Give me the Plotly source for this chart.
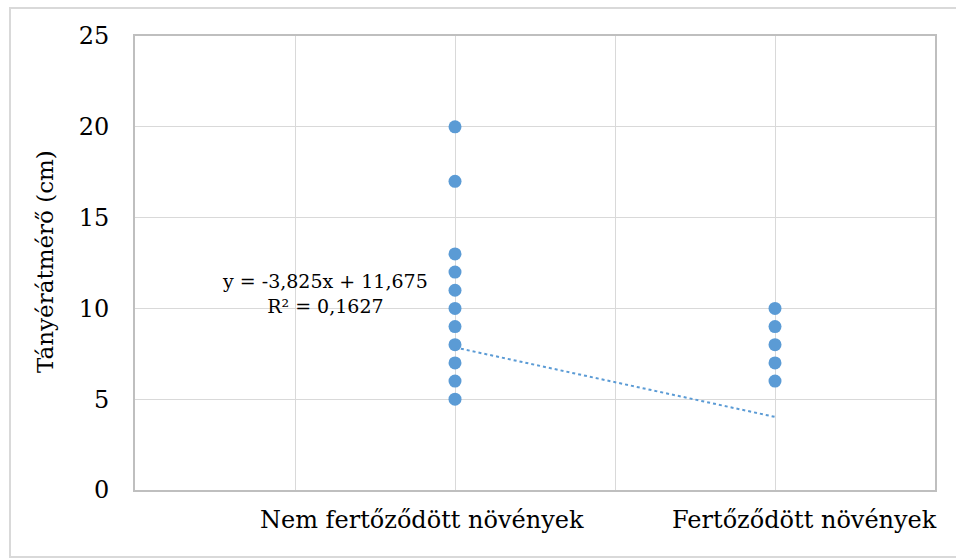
import plotly.graph_objects as go

categories = ["Nem fertőződött növények", "Fertőződött növények"]
cat_x = [1, 2]
nem_values = [20, 17, 13, 12, 11, 10, 9, 8, 7, 6, 5]
fert_values = [10, 9, 8, 7, 6]
trend_slope = -3.825
trend_intercept = 11.675
r_squared = 0.1627
y_ticks = [0, 5, 10, 15, 20, 25]

xs = [cat_x[0]] * len(nem_values) + [cat_x[1]] * len(fert_values)
ys = nem_values + fert_values

fig = go.Figure()
fig.add_trace(go.Scatter(
    x=xs, y=ys, mode="markers",
    marker=dict(size=13, color="#5b9bd5"),
    showlegend=False, hoverinfo="skip",
))
tx = [cat_x[0], cat_x[1]]
ty = [trend_slope * v + trend_intercept for v in tx]
fig.add_trace(go.Scatter(
    x=tx, y=ty, mode="lines",
    line=dict(color="#5b9bd5", width=2, dash="dot"),
    showlegend=False, hoverinfo="skip",
))

font_family = "DejaVu Serif"
# category label centres (offset text boxes as in the original)
label_centres_px = [422, 804]
label_annotations = [
    dict(text=cat, xref="paper", yref="paper",
         x=(px - 135) / 800, y=(490 - 520) / 454, showarrow=False,
         font=dict(size=24, family=font_family),
         xanchor="center", yanchor="middle")
    for cat, px in zip(categories, label_centres_px)
]

fig.update_layout(
    width=956, height=559,
    margin=dict(l=135, r=21, t=36, b=69),
    paper_bgcolor="white", plot_bgcolor="white",
    font=dict(family=font_family, color="#000000"),
    xaxis=dict(
        range=[0, 2.5],
        tickvals=[0, 0.5, 1, 1.5, 2, 2.5],
        showticklabels=False,
        showgrid=True, gridcolor="#d9d9d9", gridwidth=1,
        showline=True, linecolor="#bfbfbf", linewidth=2, mirror=True,
        zeroline=False, ticks="",
        fixedrange=True,
    ),
    yaxis=dict(
        range=[0, 25],
        tickvals=y_ticks,
        showgrid=True, gridcolor="#d9d9d9", gridwidth=1,
        showline=True, linecolor="#bfbfbf", linewidth=2, mirror=True,
        zeroline=False, ticks="",
        tickfont=dict(size=24, family=font_family),
        ticklabelstandoff=19,
        fixedrange=True,
    ),
    shapes=[
        dict(type="rect", xref="paper", yref="paper",
             x0=(10 - 135) / 800, x1=(960 - 135) / 800,
             y0=(490 - 557) / 454, y1=(490 - 8) / 454,
             line=dict(color="#d9d9d9", width=2), layer="below"),
    ],
    annotations=[
        dict(text="Tányérátmérő (cm)", xref="paper", yref="paper",
             x=(45 - 135) / 800, y=(490 - 262) / 454, showarrow=False,
             textangle=-90, font=dict(size=23, family=font_family),
             xanchor="center", yanchor="middle"),
        dict(text=f"y = {str(trend_slope).replace('.', ',')}x + {str(trend_intercept).replace('.', ',')}<br>R² = {str(r_squared).replace('.', ',')}",
             x=0.594, y=10.82, xref="x", yref="y", showarrow=False,
             align="center", font=dict(size=19, family=font_family),
             xanchor="center", yanchor="middle"),
    ] + label_annotations,
)

fig.write_html("out.html")
